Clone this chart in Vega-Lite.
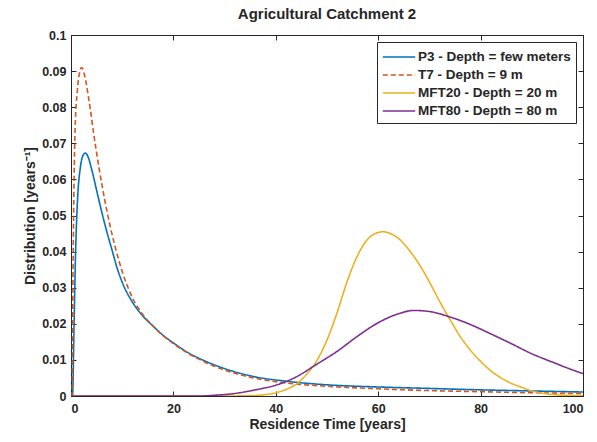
{
 "$schema": "https://vega.github.io/schema/vega-lite/v6.json",
 "width": 512, "height": 361,
 "autosize": "none",
 "padding": {"left": 71, "top": 35, "right": 14, "bottom": 46},
 "background": "white",
 "title": {"text": "Agricultural Catchment 2", "fontSize": 15, "font": "Liberation Sans", "fontWeight": "bold", "color": "#262626", "offset": 7},
 "config": {
  "view": {"stroke": "#262626", "strokeWidth": 1},
  "axis": {"grid": false, "domainColor": "#262626", "tickColor": "#262626", "tickSize": -5, "labelFont": "Liberation Sans", "labelFontWeight": "bold", "labelFontSize": 12.5, "labelColor": "#262626", "titleFont": "Liberation Sans", "titleFontWeight": "bold", "titleFontSize": 14, "titleColor": "#262626"},
  "axisX": {"labelPadding": 11},
  "axisY": {"labelPadding": 10},
  "legend": {"labelFont": "Liberation Sans", "labelFontWeight": "bold", "labelFontSize": 13.5, "labelColor": "#262626"}
 },
 "data": {"values": [
  {"series": "P3 - Depth = few meters", "t": 0, "d": 0},
  {"series": "P3 - Depth = few meters", "t": 0.3, "d": 0},
  {"series": "P3 - Depth = few meters", "t": 0.6, "d": 0.02},
  {"series": "P3 - Depth = few meters", "t": 0.9, "d": 0.04},
  {"series": "P3 - Depth = few meters", "t": 1.3, "d": 0.055},
  {"series": "P3 - Depth = few meters", "t": 1.8, "d": 0.063},
  {"series": "P3 - Depth = few meters", "t": 2.3, "d": 0.0665},
  {"series": "P3 - Depth = few meters", "t": 2.8, "d": 0.0673},
  {"series": "P3 - Depth = few meters", "t": 3.4, "d": 0.066},
  {"series": "P3 - Depth = few meters", "t": 4, "d": 0.063},
  {"series": "P3 - Depth = few meters", "t": 5, "d": 0.057},
  {"series": "P3 - Depth = few meters", "t": 6, "d": 0.051},
  {"series": "P3 - Depth = few meters", "t": 7, "d": 0.0455},
  {"series": "P3 - Depth = few meters", "t": 8, "d": 0.0405},
  {"series": "P3 - Depth = few meters", "t": 9, "d": 0.0355},
  {"series": "P3 - Depth = few meters", "t": 10, "d": 0.0315},
  {"series": "P3 - Depth = few meters", "t": 12, "d": 0.026},
  {"series": "P3 - Depth = few meters", "t": 14, "d": 0.0222},
  {"series": "P3 - Depth = few meters", "t": 16, "d": 0.0194},
  {"series": "P3 - Depth = few meters", "t": 18, "d": 0.0168},
  {"series": "P3 - Depth = few meters", "t": 20, "d": 0.0147},
  {"series": "P3 - Depth = few meters", "t": 23, "d": 0.0119},
  {"series": "P3 - Depth = few meters", "t": 26, "d": 0.0098},
  {"series": "P3 - Depth = few meters", "t": 30, "d": 0.0076},
  {"series": "P3 - Depth = few meters", "t": 36, "d": 0.0053},
  {"series": "P3 - Depth = few meters", "t": 42, "d": 0.0041},
  {"series": "P3 - Depth = few meters", "t": 50, "d": 0.0031},
  {"series": "P3 - Depth = few meters", "t": 60, "d": 0.0025},
  {"series": "P3 - Depth = few meters", "t": 70, "d": 0.0021},
  {"series": "P3 - Depth = few meters", "t": 80, "d": 0.0017},
  {"series": "P3 - Depth = few meters", "t": 90, "d": 0.0014},
  {"series": "P3 - Depth = few meters", "t": 100, "d": 0.0011},
  {"series": "T7 - Depth = 9 m", "t": 0, "d": 0},
  {"series": "T7 - Depth = 9 m", "t": 0.2, "d": 0},
  {"series": "T7 - Depth = 9 m", "t": 0.4, "d": 0.035},
  {"series": "T7 - Depth = 9 m", "t": 0.6, "d": 0.06},
  {"series": "T7 - Depth = 9 m", "t": 0.8, "d": 0.074},
  {"series": "T7 - Depth = 9 m", "t": 1.2, "d": 0.084},
  {"series": "T7 - Depth = 9 m", "t": 1.6, "d": 0.089},
  {"series": "T7 - Depth = 9 m", "t": 2.1, "d": 0.091},
  {"series": "T7 - Depth = 9 m", "t": 2.7, "d": 0.0885},
  {"series": "T7 - Depth = 9 m", "t": 3.5, "d": 0.082},
  {"series": "T7 - Depth = 9 m", "t": 4.5, "d": 0.072},
  {"series": "T7 - Depth = 9 m", "t": 5.5, "d": 0.063},
  {"series": "T7 - Depth = 9 m", "t": 6.5, "d": 0.055},
  {"series": "T7 - Depth = 9 m", "t": 7.5, "d": 0.048},
  {"series": "T7 - Depth = 9 m", "t": 8.5, "d": 0.042},
  {"series": "T7 - Depth = 9 m", "t": 10, "d": 0.0345},
  {"series": "T7 - Depth = 9 m", "t": 12, "d": 0.0272},
  {"series": "T7 - Depth = 9 m", "t": 14, "d": 0.0226},
  {"series": "T7 - Depth = 9 m", "t": 16, "d": 0.0194},
  {"series": "T7 - Depth = 9 m", "t": 18, "d": 0.0167},
  {"series": "T7 - Depth = 9 m", "t": 20, "d": 0.0145},
  {"series": "T7 - Depth = 9 m", "t": 23, "d": 0.0117},
  {"series": "T7 - Depth = 9 m", "t": 26, "d": 0.0095},
  {"series": "T7 - Depth = 9 m", "t": 30, "d": 0.0072},
  {"series": "T7 - Depth = 9 m", "t": 36, "d": 0.0049},
  {"series": "T7 - Depth = 9 m", "t": 42, "d": 0.0036},
  {"series": "T7 - Depth = 9 m", "t": 50, "d": 0.0027},
  {"series": "T7 - Depth = 9 m", "t": 60, "d": 0.002},
  {"series": "T7 - Depth = 9 m", "t": 70, "d": 0.0015},
  {"series": "T7 - Depth = 9 m", "t": 80, "d": 0.0012},
  {"series": "T7 - Depth = 9 m", "t": 90, "d": 0.0009},
  {"series": "T7 - Depth = 9 m", "t": 100, "d": 0.0007},
  {"series": "MFT20 - Depth = 20 m", "t": 0, "d": 0},
  {"series": "MFT20 - Depth = 20 m", "t": 30, "d": 0},
  {"series": "MFT20 - Depth = 20 m", "t": 35, "d": 0.0001},
  {"series": "MFT20 - Depth = 20 m", "t": 38, "d": 0.0004},
  {"series": "MFT20 - Depth = 20 m", "t": 40, "d": 0.0009},
  {"series": "MFT20 - Depth = 20 m", "t": 42, "d": 0.0018},
  {"series": "MFT20 - Depth = 20 m", "t": 44, "d": 0.0033},
  {"series": "MFT20 - Depth = 20 m", "t": 46, "d": 0.006},
  {"series": "MFT20 - Depth = 20 m", "t": 48, "d": 0.0098},
  {"series": "MFT20 - Depth = 20 m", "t": 50, "d": 0.0155},
  {"series": "MFT20 - Depth = 20 m", "t": 52, "d": 0.0232},
  {"series": "MFT20 - Depth = 20 m", "t": 54, "d": 0.032},
  {"series": "MFT20 - Depth = 20 m", "t": 56, "d": 0.039},
  {"series": "MFT20 - Depth = 20 m", "t": 58, "d": 0.0435},
  {"series": "MFT20 - Depth = 20 m", "t": 60, "d": 0.0453},
  {"series": "MFT20 - Depth = 20 m", "t": 61, "d": 0.0455},
  {"series": "MFT20 - Depth = 20 m", "t": 62, "d": 0.0452},
  {"series": "MFT20 - Depth = 20 m", "t": 64, "d": 0.0436},
  {"series": "MFT20 - Depth = 20 m", "t": 66, "d": 0.0405},
  {"series": "MFT20 - Depth = 20 m", "t": 68, "d": 0.0365},
  {"series": "MFT20 - Depth = 20 m", "t": 70, "d": 0.0316},
  {"series": "MFT20 - Depth = 20 m", "t": 72, "d": 0.0262},
  {"series": "MFT20 - Depth = 20 m", "t": 74, "d": 0.0212},
  {"series": "MFT20 - Depth = 20 m", "t": 76, "d": 0.0165},
  {"series": "MFT20 - Depth = 20 m", "t": 78, "d": 0.0127},
  {"series": "MFT20 - Depth = 20 m", "t": 80, "d": 0.0096},
  {"series": "MFT20 - Depth = 20 m", "t": 82, "d": 0.007},
  {"series": "MFT20 - Depth = 20 m", "t": 84, "d": 0.005},
  {"series": "MFT20 - Depth = 20 m", "t": 86, "d": 0.0035},
  {"series": "MFT20 - Depth = 20 m", "t": 88, "d": 0.0024},
  {"series": "MFT20 - Depth = 20 m", "t": 90, "d": 0.0014},
  {"series": "MFT20 - Depth = 20 m", "t": 92, "d": 0.0008},
  {"series": "MFT20 - Depth = 20 m", "t": 95, "d": 0.0003},
  {"series": "MFT20 - Depth = 20 m", "t": 100, "d": 0.0001},
  {"series": "MFT80 - Depth = 80 m", "t": 0, "d": 0},
  {"series": "MFT80 - Depth = 80 m", "t": 25, "d": 0},
  {"series": "MFT80 - Depth = 80 m", "t": 28, "d": 0.0002},
  {"series": "MFT80 - Depth = 80 m", "t": 32, "d": 0.0007},
  {"series": "MFT80 - Depth = 80 m", "t": 36, "d": 0.0017},
  {"series": "MFT80 - Depth = 80 m", "t": 40, "d": 0.003},
  {"series": "MFT80 - Depth = 80 m", "t": 42, "d": 0.004},
  {"series": "MFT80 - Depth = 80 m", "t": 44, "d": 0.0053},
  {"series": "MFT80 - Depth = 80 m", "t": 48, "d": 0.0088},
  {"series": "MFT80 - Depth = 80 m", "t": 52, "d": 0.0124},
  {"series": "MFT80 - Depth = 80 m", "t": 56, "d": 0.0166},
  {"series": "MFT80 - Depth = 80 m", "t": 60, "d": 0.0203},
  {"series": "MFT80 - Depth = 80 m", "t": 64, "d": 0.0228},
  {"series": "MFT80 - Depth = 80 m", "t": 67, "d": 0.0237},
  {"series": "MFT80 - Depth = 80 m", "t": 70, "d": 0.0234},
  {"series": "MFT80 - Depth = 80 m", "t": 74, "d": 0.0219},
  {"series": "MFT80 - Depth = 80 m", "t": 78, "d": 0.0198},
  {"series": "MFT80 - Depth = 80 m", "t": 82, "d": 0.0172},
  {"series": "MFT80 - Depth = 80 m", "t": 86, "d": 0.0145},
  {"series": "MFT80 - Depth = 80 m", "t": 90, "d": 0.0117},
  {"series": "MFT80 - Depth = 80 m", "t": 94, "d": 0.0094},
  {"series": "MFT80 - Depth = 80 m", "t": 98, "d": 0.0072},
  {"series": "MFT80 - Depth = 80 m", "t": 100, "d": 0.0062}
 ]},
 "layer": [
  {
   "mark": {"type": "line", "interpolate": "monotone", "strokeWidth": 1.6, "clip": true},
   "encoding": {
    "x": {"field": "t", "type": "quantitative", "scale": {"domain": [0, 100], "nice": false}, "axis": {"values": [0, 20, 40, 60, 80, 100], "title": "Residence Time [years]", "titlePadding": 3}},
    "y": {"field": "d", "type": "quantitative", "scale": {"domain": [0, 0.1], "nice": false}, "axis": {"values": [0, 0.01, 0.02, 0.03, 0.04, 0.05, 0.06, 0.07, 0.08, 0.09, 0.1], "labelExpr": "format(datum.value, '~g')", "title": "Distribution [years⁻¹]", "titlePadding": 4}},
    "color": {"field": "series", "type": "nominal", "scale": {"domain": ["P3 - Depth = few meters", "T7 - Depth = 9 m", "MFT20 - Depth = 20 m", "MFT80 - Depth = 80 m"], "range": ["#0072BD", "#D95319", "#EDB120", "#7E2F8E"]}, "legend": {"title": null, "orient": "top-right", "offset": 7, "strokeColor": "#262626", "fillColor": "white", "padding": 5, "symbolType": "M-1.8,0H1.8", "symbolSize": 324, "symbolStrokeWidth": 1.5, "symbolOffset": 7, "rowPadding": 1, "labelOffset": 9}},
    "strokeDash": {"field": "series", "type": "nominal", "scale": {"domain": ["P3 - Depth = few meters", "T7 - Depth = 9 m", "MFT20 - Depth = 20 m", "MFT80 - Depth = 80 m"], "range": [[1, 0], [5, 3], [1, 0], [1, 0]]}, "legend": {"title": null, "orient": "top-right", "offset": 7, "strokeColor": "#262626", "fillColor": "white", "padding": 5, "symbolType": "M-1.8,0H1.8", "symbolSize": 324, "symbolStrokeWidth": 1.5, "symbolOffset": 7, "rowPadding": 1, "labelOffset": 9}}
   }
  },
  {
   "mark": {"type": "line", "opacity": 0},
   "encoding": {
    "x": {"field": "t", "type": "quantitative", "axis": {"orient": "top", "values": [0, 20, 40, 60, 80, 100], "labels": false, "title": null}},
    "y": {"field": "d", "type": "quantitative", "axis": {"orient": "right", "values": [0, 0.01, 0.02, 0.03, 0.04, 0.05, 0.06, 0.07, 0.08, 0.09, 0.1], "labels": false, "title": null}}
   }
  }
 ],
 "resolve": {"axis": {"x": "independent", "y": "independent"}}
}
